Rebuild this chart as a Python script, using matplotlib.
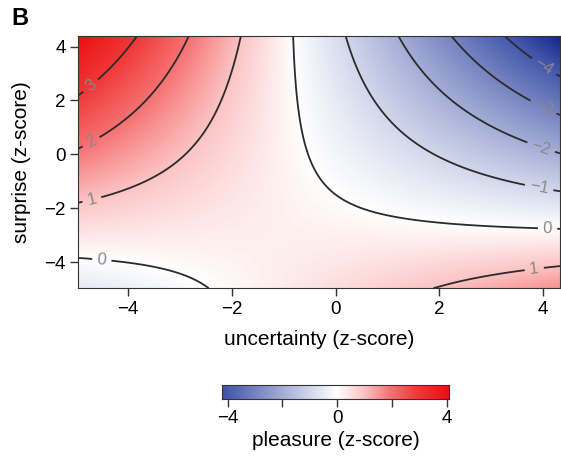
import numpy as np
import matplotlib
matplotlib.use("Agg")
import matplotlib.pyplot as plt
from matplotlib.colors import LinearSegmentedColormap, Normalize

plt.rcParams['font.family'] = ['Liberation Sans', 'DejaVu Sans']

# Points traced along the contour lines of the reference (level, uncertainty, surprise).
trace_level = [3, 3, 3,
               2, 2, 2, 2,
               1, 1, 1, 1, 1, 1,
               0, 0, 0, 0, 0,
               0, 0, 0, 0, 0, 0, 0, 0,
               -1, -1, -1, -1, -1,
               -2, -2, -2, -2,
               -3, -3, -3,
               -4, -4,
               1, 1, 1, 1]
trace_x = [-4.51, -4.19, -3.87,
           -4.46, -3.74, -3.23, -2.84,
           -4.43, -3.42, -2.78, -2.26, -1.94, -1.81,
           -4.97, -4.22, -3.42, -2.78, -2.39,
           -0.79, -0.66, -0.50, -0.18, 0.34, 1.30, 2.59, 3.81,
           0.24, 0.66, 1.30, 2.26, 3.55,
           1.24, 1.62, 2.26, 3.58,
           2.23, 2.71, 3.61,
           3.26, 3.68,
           1.91, 2.59, 3.61, 4.32]
trace_y = [2.94, 3.56, 4.39,
           0.72, 1.90, 3.13, 4.39,
           -1.56, -0.82, 0.04, 1.40, 3.01, 4.39,
           -3.80, -3.91, -4.16, -4.59, -4.96,
           4.39, 1.53, 0.04, -0.94, -1.69, -2.30, -2.61, -2.73,
           4.39, 1.90, 0.54, -0.45, -1.01,
           4.39, 2.88, 1.65, 0.60,
           4.39, 3.38, 2.27,
           4.39, 3.81,
           -4.96, -4.59, -4.28, -4.17]

contour_levels = [-4, -3, -2, -1, 0, 1, 2, 3]
# where the reference puts the contour labels
label_pos = [(-4.73, 2.56), (-4.70, 0.41), (-4.70, -1.69), (-4.51, -3.91),
             (4.09, -2.76), (3.93, -1.19), (3.97, 0.29), (4.0, 1.71),
             (4.0, 3.19), (3.84, -4.34)]

xlim = (-4.97, 4.33)
ylim = (-4.96, 4.39)

# quadratic response surface fitted to the traced contour points
tx = np.array(trace_x)
ty = np.array(trace_y)
A = np.column_stack([np.ones_like(tx), tx, ty, tx * ty, tx ** 2, ty ** 2])
coef = np.linalg.lstsq(A, np.array(trace_level, float), rcond=None)[0]

gx = np.linspace(xlim[0], xlim[1], 400)
gy = np.linspace(ylim[0], ylim[1], 400)
X, Y = np.meshgrid(gx, gy)
Z = (coef[0] + coef[1] * X + coef[2] * Y + coef[3] * X * Y
     + coef[4] * X ** 2 + coef[5] * Y ** 2)

# blue - white - red, blue side runs further down than the colour bar shows
vmin, vmax = -6.0, 4.1
anchors = [(-6.0, (6, 20, 115)), (-5.0, (20, 40, 140)), (-4.2, (62, 82, 168)),
           (0.0, (255, 255, 255)),
           (1.0, (252, 195, 195)), (2.0, (246, 112, 112)), (3.0, (240, 55, 55)),
           (4.1, (236, 16, 16))]
cmap = LinearSegmentedColormap.from_list(
    'pleasure', [((v - vmin) / (vmax - vmin), tuple(c / 255 for c in rgb)) for v, rgb in anchors])
norm = Normalize(vmin, vmax, clip=True)

fig = plt.figure(figsize=(5.61, 4.63), dpi=100)
ax = fig.add_axes([78 / 561, 1 - 288.3 / 463, (560 - 78) / 561, (288.3 - 36) / 463])
ax.imshow(Z, extent=[xlim[0], xlim[1], ylim[0], ylim[1]], origin='lower',
          cmap=cmap, norm=norm, aspect='auto', interpolation='bilinear')
cs = ax.contour(X, Y, Z, levels=contour_levels, colors='#2b2b2b', linewidths=1.3,
                linestyles='solid')
ax.clabel(cs, manual=label_pos, inline=True, inline_spacing=5, fontsize=12,
          colors='#8c8888', fmt=lambda v: ('%d' % v).replace('-', '\u2212'))
ax.set_xlim(xlim)
ax.set_ylim(ylim)
ax.set_xticks([-4, -2, 0, 2, 4])
ax.set_yticks([-4, -2, 0, 2, 4])
ax.tick_params(direction='out', length=6, width=1, pad=3, labelsize=13.5, color='#333333')
for s in ax.spines.values():
    s.set_color('#333333')
ax.set_xlabel('uncertainty (z-score)', fontsize=15, labelpad=9)
ax.set_ylabel('surprise (z-score)', fontsize=15, labelpad=9)

# colour bar
cax = fig.add_axes([222.3 / 561, 1 - 399 / 463, (449.3 - 222.3) / 561, 14 / 463])
bar = np.linspace(-4.2, 4.1, 300)
cax.imshow(bar[np.newaxis, :], extent=[-4.2, 4.1, 0, 1], aspect='auto', cmap=cmap, norm=norm)
cax.set_xlim(-4.2, 4.1)
cax.set_yticks([])
cax.set_xticks([-4, -2, 0, 2, 4])
cax.set_xticklabels(['\u22124', '', '0', '', '4'])
cax.tick_params(direction='out', length=6, width=1, pad=2, labelsize=13.5, color='#333333')
for s in cax.spines.values():
    s.set_color('#333333')
cax.set_xlabel('pleasure (z-score)', fontsize=15, labelpad=3)

fig.text(11 / 561, 1 - 7 / 463, 'B', fontsize=17, fontweight='bold', va='top', ha='left')

fig.savefig('out.png', dpi=100)
